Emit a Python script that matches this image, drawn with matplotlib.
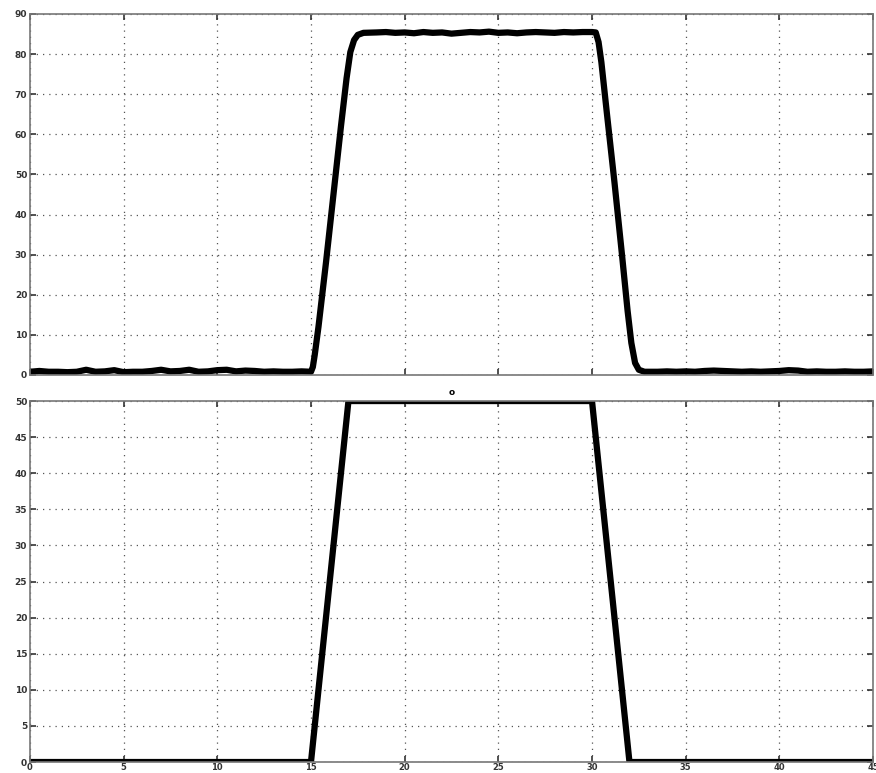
import matplotlib.pyplot as plt
import numpy as np

top_x = [0, 0.5, 1, 1.5, 2, 2.5, 3, 3.5, 4, 4.5, 5, 5.5, 6, 6.5, 7, 7.5, 8,
         8.5, 9, 9.5, 10, 10.5, 11, 11.5, 12, 12.5, 13, 13.5, 14, 14.5, 15.0,
         15.1, 15.2, 15.4, 15.8, 16.2, 16.6, 16.9, 17.1, 17.3, 17.5, 17.8,
         18.5, 19, 19.5, 20, 20.5, 21, 21.5, 22, 22.5, 23, 23.5, 24, 24.5,
         25, 25.5, 26, 26.5, 27, 27.5, 28, 28.5, 29, 29.5, 30, 30.2,
         30.35, 30.5, 30.8, 31.2, 31.6, 31.9, 32.1, 32.3, 32.5, 32.8,
         33.5, 34, 34.5, 35, 35.5, 36, 36.5, 37, 37.5, 38, 38.5, 39, 39.5,
         40, 40.5, 41, 41.5, 42, 42.5, 43, 43.5, 44, 44.5, 45]
top_y = [0.8, 1.0, 0.8, 0.8, 0.7, 0.8, 1.3, 0.8, 0.9, 1.2, 0.7, 0.8, 0.8, 1.0,
         1.3, 0.9, 1.0, 1.3, 0.8, 0.9, 1.2, 1.3, 0.9, 1.1, 1.0, 0.8, 0.9, 0.8,
         0.8, 0.9, 0.8,
         2.0, 5.0, 12.0, 28.0, 45.0, 62.0, 74.0, 80.5, 83.5, 84.8, 85.3,
         85.4, 85.5, 85.3, 85.4, 85.2, 85.5, 85.3, 85.4, 85.1, 85.3, 85.5,
         85.4, 85.6, 85.3, 85.4, 85.2, 85.4, 85.5, 85.4, 85.3, 85.5, 85.4,
         85.5, 85.5, 85.4,
         83.0, 78.0, 65.0, 48.0, 30.0, 16.0, 8.0, 3.0, 1.3, 0.8,
         0.8, 0.9, 0.8, 0.9, 0.8, 1.0, 1.1, 1.0, 0.9, 0.8, 0.9, 0.8, 0.9,
         1.0, 1.2, 1.1, 0.8, 0.9, 0.8, 0.8, 0.9, 0.8, 0.8, 0.9]

# lower trace: ideal trapezoid
bot_x = [0, 15, 17, 30, 32, 45]
bot_y = [0, 0, 50, 50, 0, 0]

fig = plt.figure(figsize=(8.76, 7.73), dpi=100)
ax1 = fig.add_axes([0.0342, 0.5149, 0.9624, 0.4670])
ax2 = fig.add_axes([0.0342, 0.0142, 0.9624, 0.4670])

for ax in (ax1, ax2):
    ax.set_xlim(0, 45)
    ax.set_xticks(np.arange(0, 46, 5))
    ax.grid(True, linestyle=(0, (1, 4)), color='#555555', linewidth=0.9)
    ax.tick_params(direction='in', top=True, right=True, length=4,
                   width=1.2, labelsize=6.5, colors='#333333', pad=2)
    for s in ax.spines.values():
        s.set_color('#777777')
        s.set_linewidth(1.2)
    for lab in ax.get_xticklabels() + ax.get_yticklabels():
        lab.set_fontweight('bold')

ax1.plot(top_x, top_y, color='black', linewidth=4.5, solid_joinstyle='round')
ax1.set_ylim(0, 90)
ax1.set_yticks(np.arange(0, 91, 10))
ax1.tick_params(labelbottom=False)

ax2.plot(bot_x, bot_y, color='black', linewidth=4.5)
ax2.set_ylim(0, 50)
ax2.set_yticks(np.arange(0, 51, 5))
ax2.tick_params(axis='x', labelsize=6, pad=1)
ax2.set_title('o', fontsize=6.5, fontweight='bold', pad=4)

fig.savefig('out.png', dpi=100)
